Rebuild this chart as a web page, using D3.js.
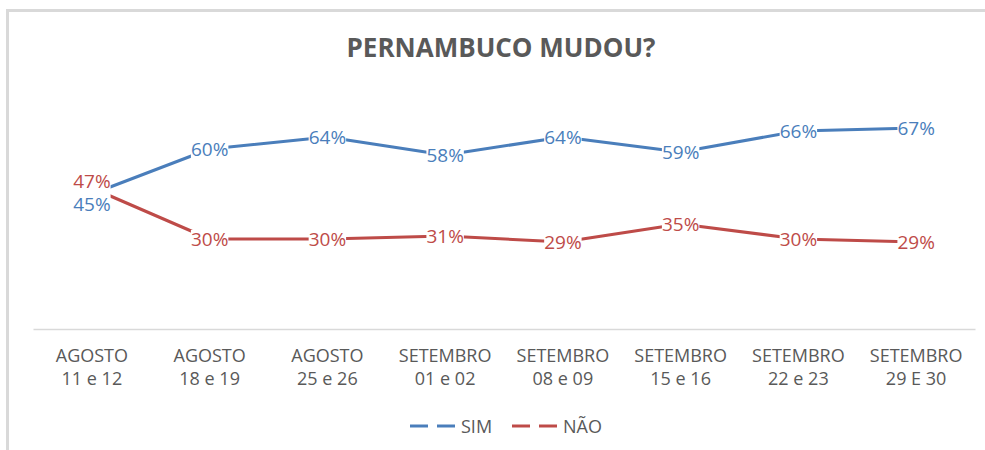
<!DOCTYPE html>
<html>
<head>
<meta charset="utf-8">
<script src="https://cdn.jsdelivr.net/npm/d3@7"></script>
<style>
  body { margin: 0; background: #fff; }
  svg { font-family: "Open Sans", sans-serif; }
</style>
</head>
<body>
<div id="chart"></div>
<script>
// data
var categories = ["AGOSTO|11 e 12", "AGOSTO|18 e 19", "AGOSTO|25 e 26", "SETEMBRO|01 e 02",
  "SETEMBRO|08 e 09", "SETEMBRO|15 e 16", "SETEMBRO|22 e 23", "SETEMBRO|29 E 30"];
var simValues = [45, 60, 64, 58, 64, 59, 66, 67];
var naoValues = [47, 30, 30, 31, 29, 35, 30, 29];
var seriesNames = ["SIM", "NÃO"];

var width = 985, height = 450;
var margin = { top: 29, right: 10, bottom: 121, left: 33 };

var svg = d3.select("#chart").append("svg")
  .attr("width", width)
  .attr("height", height);

// chart area border
svg.append("rect")
  .attr("x", 7.5).attr("y", 10.5)
  .attr("width", 1000).attr("height", 460)
  .attr("fill", "#fff")
  .attr("stroke", "#d9d9d9")
  .attr("stroke-width", 3);

var x = d3.scaleBand()
  .domain(categories)
  .range([margin.left, width - margin.right]);

var y = d3.scaleLinear()
  .domain([0, 100])
  .range([height - margin.bottom, margin.top]);

svg.append("text")
  .attr("x", 501).attr("y", 47)
  .attr("text-anchor", "middle")
  .attr("dominant-baseline", "central")
  .attr("font-size", 26)
  .attr("font-weight", "bold")
  .attr("fill", "#595959")
  .text("PERNAMBUCO MUDOU?");

// x axis
var xAxis = svg.append("g")
  .attr("transform", "translate(0," + y(0) + ")")
  .call(d3.axisBottom(x).tickSize(0).tickFormat(""));
xAxis.select(".domain").attr("stroke", "#d9d9d9").attr("stroke-width", 1.3);
xAxis.selectAll(".tick text").remove();

xAxis.selectAll(".tick").each(function (d) {
  var parts = d.split("|");
  var t = d3.select(this);
  [26, 49].forEach(function (ty, k) {
    t.append("text")
      .attr("x", 0).attr("y", ty)
      .attr("text-anchor", "middle")
      .attr("dominant-baseline", "central")
      .attr("font-family", "Open Sans")
      .attr("font-size", 18)
      .attr("fill", "#595959")
      .text(parts[k]);
  });
});

var cx = function (d, i) { return x(categories[i]) + x.bandwidth() / 2; };

var line = d3.line()
  .x(function (d, i) { return cx(d, i); })
  .y(function (d) { return y(d); });

var series = [
  { name: seriesNames[0], values: simValues, color: "#4a7ebb", firstDy: 10 },
  { name: seriesNames[1], values: naoValues, color: "#be4b48", firstDy: -7 }
];

series.forEach(function (s) {
  svg.append("path")
    .datum(s.values)
    .attr("fill", "none")
    .attr("stroke", s.color)
    .attr("stroke-width", 3)
    .attr("stroke-linejoin", "round")
    .attr("d", line);
});

// data labels with white background
series.forEach(function (s) {
  var g = svg.append("g");
  s.values.forEach(function (v, i) {
    var lx = cx(v, i);
    var ly = y(v) + (i === 0 ? s.firstDy : 0);
    var lg = g.append("g");
    var bg = lg.append("rect").attr("fill", "#fff");
    var t = lg.append("text")
      .attr("x", lx).attr("y", ly)
      .attr("text-anchor", "middle")
      .attr("dominant-baseline", "central")
      .attr("font-size", 19)
      .attr("font-weight", 500)
      .attr("fill", s.color)
      .text(v + "%");
    var b = t.node().getBBox();
    var pad = i === 0 ? 0 : 4;
    bg.attr("x", b.x).attr("y", b.y + pad)
      .attr("width", b.width).attr("height", b.height - 2 * pad);
  });
});

// legend
var legend = svg.append("g").attr("transform", "translate(410,426)");
var legX = [0, 102];
series.forEach(function (s, i) {
  var lg = legend.append("g").attr("transform", "translate(" + legX[i] + ",0)");
  lg.append("line").attr("x1", 0).attr("x2", 18).attr("y1", 0).attr("y2", 0)
    .attr("stroke", s.color).attr("stroke-width", 3);
  lg.append("line").attr("x1", 27).attr("x2", 45).attr("y1", 0).attr("y2", 0)
    .attr("stroke", s.color).attr("stroke-width", 3);
  lg.append("text")
    .attr("x", 51).attr("y", 0)
    .attr("dominant-baseline", "central")
    .attr("font-size", 18)
    .attr("fill", "#595959")
    .text(s.name);
});
</script>
</body>
</html>
